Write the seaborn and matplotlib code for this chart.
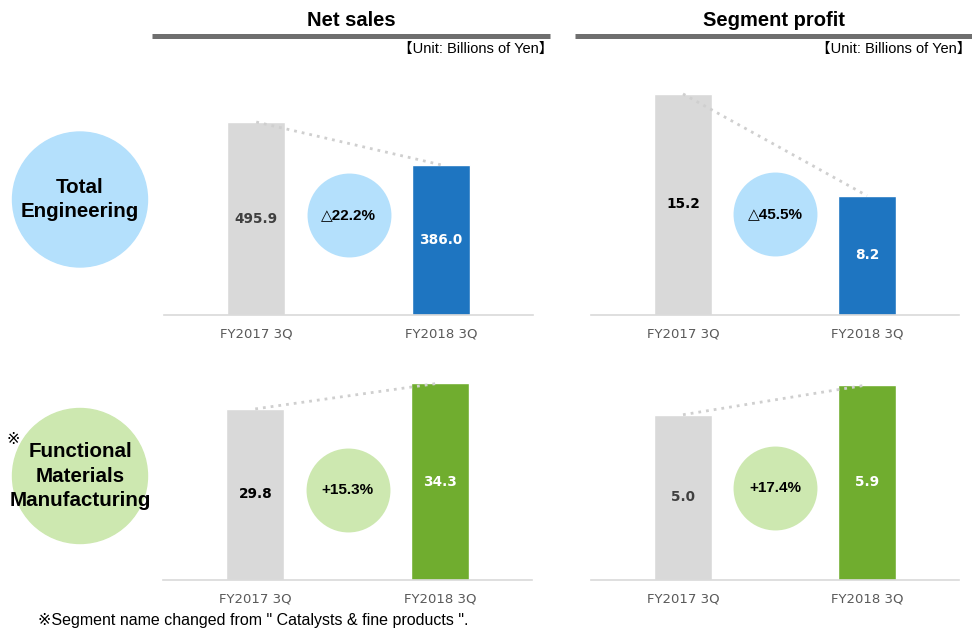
import matplotlib
matplotlib.use("Agg")
import matplotlib.pyplot as plt
from matplotlib.patches import Circle
import seaborn as sns
import pandas as pd

# ---- data ----
periods = ["FY2017 3Q", "FY2018 3Q"]
te_sales = [495.9, 386.0]
te_profit = [15.2, 8.2]
fm_sales = [29.8, 34.3]
fm_profit = [5.0, 5.9]
te_sales_chg = "△22.2%"
te_profit_chg = "△45.5%"
fm_sales_chg = "+15.3%"
fm_profit_chg = "+17.4%"
col_titles = ["Net sales", "Segment profit"]
unit_label = "【Unit: Billions of Yen】"
row_labels = [["Total", "Engineering"], ["Functional", "Materials", "Manufacturing"]]
footnote = "※Segment name changed from \" Catalysts & fine products \"."

GRAY = "#D9D9D9"
BLUE = "#1E75C1"
GREEN = "#70AD2F"
LBLUE = "#B4E0FC"
LGREEN = "#CDE8B0"

sns.set_theme(style="white")
plt.rcParams["font.family"] = ["Liberation Sans", "DejaVu Sans", "Noto Sans CJK JP"]
plt.rcParams["text.color"] = "black"

W, H = 972, 628
fig = plt.figure(figsize=(W / 100, H / 100), dpi=100)


def px_axes(x0, x1, ytop, ybot):
    return fig.add_axes([x0 / W, 1 - ybot / H, (x1 - x0) / W, (ybot - ytop) / H])


def panel(ax, vals, color, ymax, circ_col, chg, circ_y, lab_cols):
    df = pd.DataFrame({"period": periods, "value": vals})
    sns.barplot(data=df, x="period", y="value", hue="period",
                palette=[GRAY, color], width=0.315, ax=ax, legend=False,
                saturation=1, zorder=2)
    ax.plot([0, 1], vals, color="#CFCFCF", ls=(0, (1, 1.8)), lw=2.0, zorder=3)
    ax.set_xlim(-0.5, 1.5)
    ax.set_ylim(0, ymax)
    ax.set_xlabel("")
    ax.set_ylabel("")
    ax.set_yticks([])
    for s in ["top", "left", "right"]:
        ax.spines[s].set_visible(False)
    ax.spines["bottom"].set_color("#D9D9D9")
    ax.spines["bottom"].set_linewidth(1.2)
    ax.tick_params(axis="x", length=0, pad=9, labelsize=9.5, labelcolor="#595959")
    for lab in ax.get_xticklabels():
        lab.set_fontfamily("DejaVu Sans")
    for i, v in enumerate(vals):
        ax.text(i, v / 2, f"{v:.1f}", ha="center", va="center",
                fontsize=9.8, fontweight="bold", color=lab_cols[i],
                family="DejaVu Sans", zorder=5)
    ax.scatter([0.5], [circ_y], s=3650, color=circ_col, transform=ax.get_xaxis_transform(),
               zorder=4, linewidths=0, clip_on=False)
    ax.text(0.5, circ_y, chg, transform=ax.get_xaxis_transform(), ha="center",
            va="center", fontsize=11, fontweight="bold", color="black",
            family=["Liberation Sans", "DejaVu Sans"], zorder=5)


ax1 = px_axes(164, 533, 75, 315)
panel(ax1, te_sales, BLUE, 616.7, LBLUE, te_sales_chg, (315 - 215) / 240,
      ["#404040", "white"])
ax2 = px_axes(591, 959, 75, 315)
panel(ax2, te_profit, BLUE, 16.5, LBLUE, te_profit_chg, (315 - 214) / 240,
      ["black", "white"])
ax3 = px_axes(163, 532, 340, 580)
panel(ax3, fm_sales, GREEN, 41.8, LGREEN, fm_sales_chg, (580 - 490) / 240,
      ["black", "white"])
ax4 = px_axes(591, 959, 340, 580)
panel(ax4, fm_profit, GREEN, 7.26, LGREEN, fm_profit_chg, (580 - 488) / 240,
      ["#404040", "white"])

# column headers
for (cx, x0, x1, rx), title in zip([(351, 152, 550, 553), (774, 575, 972, 971)], col_titles):
    fig.text(cx / W, 1 - 21 / H, title, ha="center", va="center",
             fontsize=14.5, fontweight="bold", family="Liberation Sans")
    fig.add_artist(plt.Line2D([x0 / W, x1 / W], [1 - 35.5 / H, 1 - 35.5 / H],
                              color="#6F6F6F", lw=3.6, solid_capstyle="butt"))
    fig.text(rx / W, 1 - 48.5 / H, unit_label, ha="right", va="center",
             fontsize=10.5, family=["Liberation Sans", "Noto Sans CJK JP"])

# row circles
LINE_PX = 24.5
for (cy, col), lines in zip([(199.5, LBLUE), (476, LGREEN)], row_labels):
    fig.patches.append(Circle((80 / 100, (H - cy) / 100), 0.675, color=col,
                              transform=fig.dpi_scale_trans, zorder=0))
    n = len(lines)
    for k, line in enumerate(lines):
        y = cy + (k - (n - 1) / 2) * LINE_PX
        fig.text(80 / W, 1 - y / H, line, ha="center", va="center",
                 fontsize=14.8, fontweight="bold", family="Liberation Sans")
fig.text(7 / W, 1 - 439 / H, "※", ha="left", va="center", fontsize=11.5,
         family=["DejaVu Sans", "Noto Sans CJK JP"])

fig.text(38 / W, 1 - 620 / H, footnote, ha="left", va="center", fontsize=11.5,
         family=["Liberation Sans", "DejaVu Sans", "Noto Sans CJK JP"])

fig.savefig("out.png", dpi=100)
